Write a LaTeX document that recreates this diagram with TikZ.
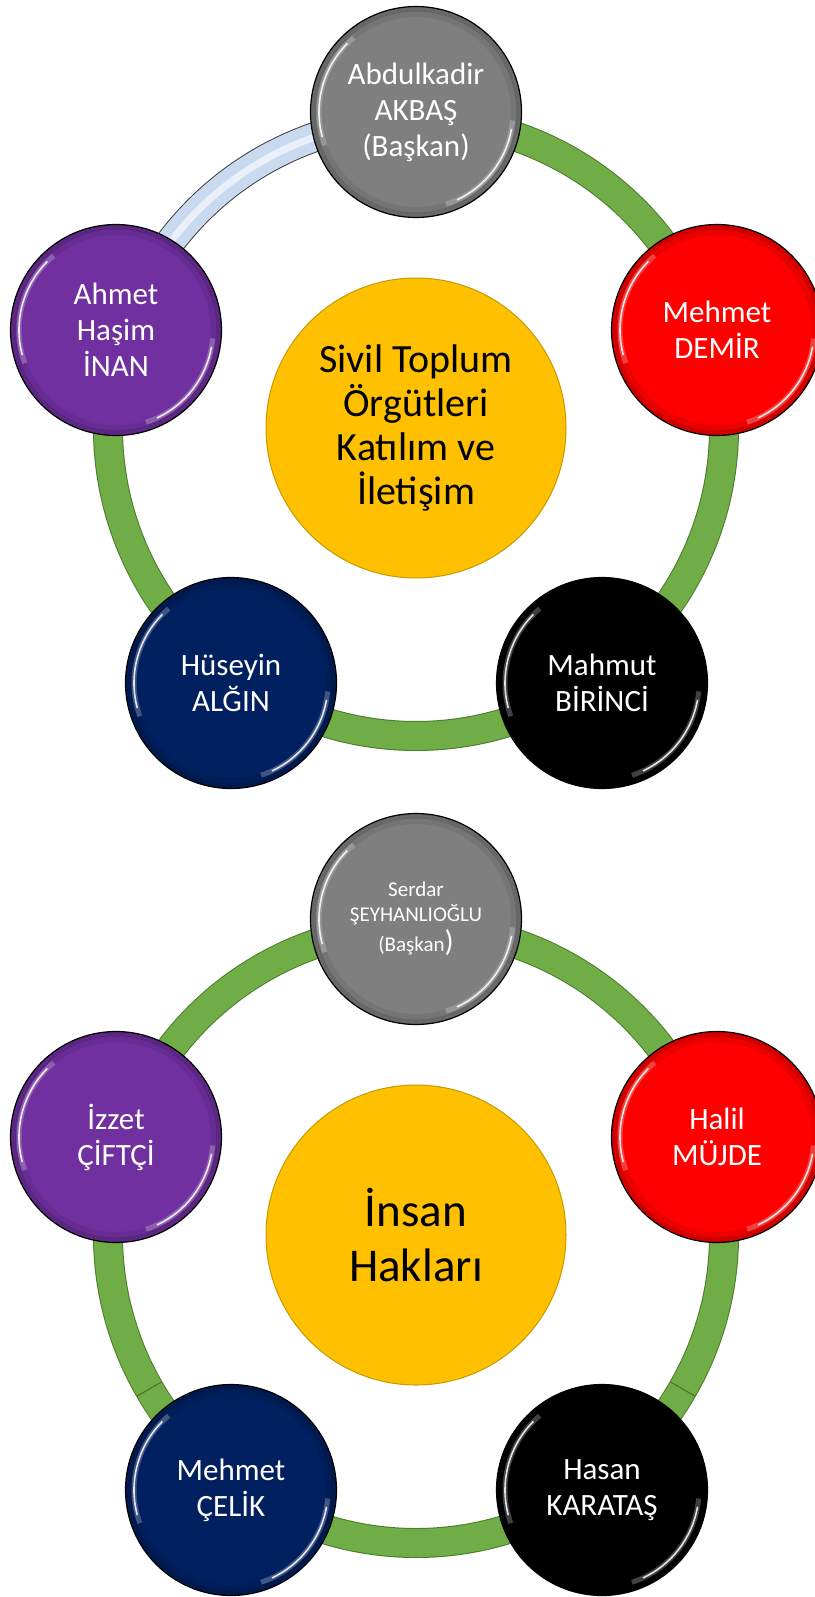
\documentclass[tikz,border=0pt]{standalone}
\usepackage{fontspec}
\setmainfont{Carlito}
\usetikzlibrary{backgrounds}

\definecolor{stkGray}{HTML}{7F7F7F}
\definecolor{stkRed}{HTML}{FF0000}
\definecolor{stkPurple}{HTML}{7030A0}
\definecolor{stkNavy}{HTML}{002060}
\definecolor{stkYellow}{HTML}{FFC000}
\definecolor{stkYellowEdge}{HTML}{C49A00}
\definecolor{ringGreen}{HTML}{70AD47}
\definecolor{ringEdge}{HTML}{4A7A2C}
\definecolor{ringBlue}{HTML}{C9DAF0}

\tikzset{
  member/.style={circle, draw=black, line width=1.2pt, minimum size=211pt, inner sep=0pt,
    text=white, align=center, font=\fontsize{31}{36}\selectfont,
    path picture={
      \draw[black, opacity=.18, line width=5pt] (path picture bounding box.center) circle[radius=103pt];
      \draw[black, opacity=.08, line width=6pt] (path picture bounding box.center) circle[radius=98pt];
      \draw[white, opacity=.25, line width=5pt] ([shift={(130:97pt)}]path picture bounding box.center) arc[start angle=130, end angle=200, radius=97pt];
      \draw[white, opacity=.85, line width=1.6pt] ([shift={(135:97pt)}]path picture bounding box.center) arc[start angle=135, end angle=195, radius=97pt];
      \draw[white, opacity=.25, line width=5pt] ([shift={(-72:97pt)}]path picture bounding box.center) arc[start angle=-72, end angle=-5, radius=97pt];
      \draw[white, opacity=.85, line width=1.6pt] ([shift={(-65:97pt)}]path picture bounding box.center) arc[start angle=-65, end angle=-10, radius=97pt];
    }},
  topic/.style={circle, draw=stkYellowEdge, line width=1pt, fill=stkYellow, minimum size=300pt,
    inner sep=0pt, align=center},
  ring/.style={draw=ringEdge, line width=1pt, double=ringGreen, double distance=28pt},
  ringlit/.style={draw=black!75, line width=1pt, double=ringBlue, double distance=28pt},
}

\begin{document}
\begin{tikzpicture}[x=1pt, y=1pt]
      \useasboundingbox (0,0) rectangle (814,-1597);

      % Sivil Toplum Orgutleri
      \node[topic, font=\fontsize{40}{44}\selectfont] (AC) at (416,-428)
            {Sivil Toplum\\Örgütleri\\Katılım ve\\İletişim};
      \node[member, fill=stkGray]   (A0) at (416,-112) {Abdulkadir\\AKBAŞ\\(Başkan)};
      \node[member, fill=stkRed]    (A1) at (717,-330) {Mehmet\\DEMİR};
      \node[member, fill=black]     (A2) at (602,-683) {Mahmut\\BİRİNCİ};
      \node[member, fill=stkNavy]   (A3) at (231,-683) {Hüseyin\\ALĞIN};
      \node[member, fill=stkPurple] (A4) at (116,-330) {Ahmet\\Haşim\\İNAN};

      \begin{scope}[on background layer]
        \draw[ring] ([shift={(90:308pt)}]AC.center) arc[start angle=90, end angle=18, radius=308pt];
        \draw[ring] ([shift={(18:308pt)}]AC.center) arc[start angle=18, end angle=-54, radius=308pt];
        \draw[ring] ([shift={(-54:308pt)}]AC.center) arc[start angle=-54, end angle=-126, radius=308pt];
        \draw[ring] ([shift={(-126:308pt)}]AC.center) arc[start angle=-126, end angle=-198, radius=308pt];
        \draw[ringlit] ([shift={(162:308pt)}]AC.center) arc[start angle=162, end angle=90, radius=308pt];
        \draw[white, opacity=.6, line width=7pt] ([shift={(162:308pt)}]AC.center) arc[start angle=162, end angle=90, radius=308pt];
      \end{scope}

      % Insan Haklari
      \node[topic, font=\fontsize{47}{55}\selectfont] (BC) at (416,-1235) {İnsan\\Hakları};
      \node[member, fill=stkGray, font=\fontsize{21}{25}\selectfont] (B0) at (416,-919)
            {Serdar\\ŞEYHANLIOĞLU\\[3pt](Başkan{\fontsize{30}{25}\selectfont)}};
      \node[member, fill=stkRed]    (B1) at (717,-1137) {Halil\\MÜJDE};
      \node[member, fill=black]     (B2) at (602,-1490) {Hasan\\KARATAŞ};
      \node[member, fill=stkNavy]   (B3) at (231,-1490) {Mehmet\\ÇELİK};
      \node[member, fill=stkPurple] (B4) at (116,-1137) {İzzet\\ÇİFTÇİ};

      \begin{scope}[on background layer]
        \draw[ring] ([shift={(90:308pt)}]BC.center) arc[start angle=90, end angle=18, radius=308pt];
        \draw[ring] ([shift={(18:308pt)}]BC.center) arc[start angle=18, end angle=-54, radius=308pt];
        \draw[ring] ([shift={(-54:308pt)}]BC.center) arc[start angle=-54, end angle=-126, radius=308pt];
        \draw[ring] ([shift={(-126:308pt)}]BC.center) arc[start angle=-126, end angle=-198, radius=308pt];
        \draw[ring] ([shift={(162:308pt)}]BC.center) arc[start angle=162, end angle=90, radius=308pt];
        \draw[ringEdge, line width=1.2pt] ([shift={(210:294pt)}]BC.center) -- ([shift={(210:322pt)}]BC.center);
        \draw[ringEdge, line width=1.2pt] ([shift={(-30:294pt)}]BC.center) -- ([shift={(-30:322pt)}]BC.center);
      \end{scope}
\end{tikzpicture}
\end{document}
